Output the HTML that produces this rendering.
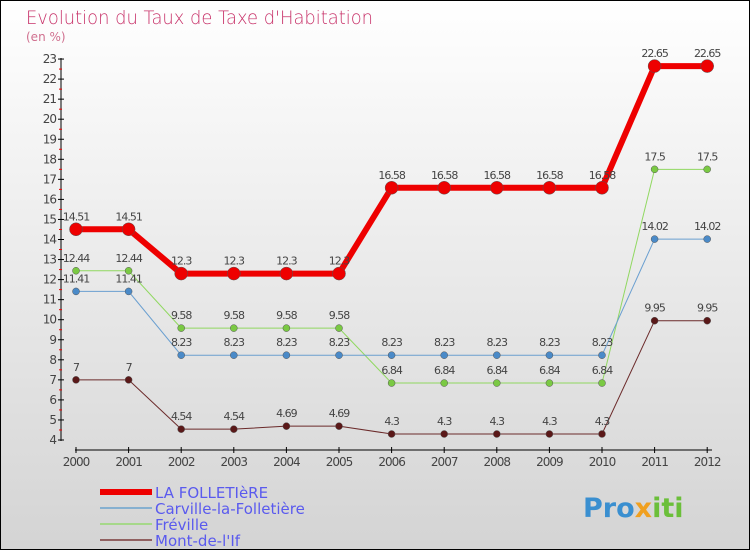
<!DOCTYPE html>
<html><head><meta charset="utf-8"><style>
body{margin:0}
#c{position:relative;width:750px;height:550px;box-sizing:border-box;border:1px solid #000;background:linear-gradient(#fff,#d4d4d4);overflow:hidden;font-family:"DejaVu Sans","Liberation Sans",sans-serif}
</style></head><body>
<div id="c">
<svg id="s" width="750" height="550" style="position:absolute;left:-1px;top:-1px">
<text x="26" y="24" font-size="19" fill="#c8336a" textLength="347" lengthAdjust="spacingAndGlyphs" font-family="DejaVu Sans,sans-serif" font-weight="200">Evolution du Taux de Taxe d'Habitation</text>
<text x="26" y="41" font-size="12" fill="#d0708f">(en %)</text>
<g id="axes"></g><g id="series"></g><g id="legend"></g>
<text x="583" y="517" font-size="27" font-weight="bold" fill="#3a8fd0">Pro<tspan fill="#f0a020">x</tspan><tspan fill="#6bbf3a">iti</tspan></text>
</svg>
</div>
<script>
const years=[2000,2001,2002,2003,2004,2005,2006,2007,2008,2009,2010,2011,2012];
const yTicks=[4,5,6,7,8,9,10,11,12,13,14,15,16,17,18,19,20,21,22,23];
const folletiere=[14.51,14.51,12.3,12.3,12.3,12.3,16.58,16.58,16.58,16.58,16.58,22.65,22.65];
const carville=[11.41,11.41,8.23,8.23,8.23,8.23,8.23,8.23,8.23,8.23,8.23,14.02,14.02];
const freville=[12.44,12.44,9.58,9.58,9.58,9.58,6.84,6.84,6.84,6.84,6.84,17.5,17.5];
const mont=[7,7,4.54,4.54,4.69,4.69,4.3,4.3,4.3,4.3,4.3,9.95,9.95];
const names=["LA FOLLETIèRE","Carville-la-Folletière","Fréville","Mont-de-l'If"];
const NS="http://www.w3.org/2000/svg";
const X=i=>76+i*52.6, Y=v=>440-(v-4)*20.05;
function mk(t,a,p){const e=document.createElementNS(NS,t);for(const k in a)e.setAttribute(k,a[k]);p.appendChild(e);return e;}
const ax=document.getElementById('axes');
let l=mk('line',{x1:61,y1:58,x2:61,y2:441,stroke:'#000'},ax);


l=mk('line',{x1:75,y1:450,x2:712,y2:450,stroke:'#000'},ax);


yTicks.forEach(v=>{mk('line',{x1:58,x2:64,y1:Y(v),y2:Y(v),stroke:'#000'},ax);
 if(v<23)mk('line',{x1:59,x2:62,y1:Y(v+0.5),y2:Y(v+0.5),stroke:'#e00'},ax);
 const t=mk('text',{x:56,y:Y(v)+4,'font-size':12,fill:'#444','text-anchor':'end','letter-spacing':'-1'},ax);t.textContent=v;
 
 });
years.forEach((y,i)=>{mk('line',{x1:X(i),x2:X(i),y1:447,y2:453,stroke:'#000'},ax);
 const t=mk('text',{x:X(i),y:466,'font-size':12,fill:'#444','text-anchor':'middle','letter-spacing':'-1'},ax);t.textContent=y;
 
 });
const sg=document.getElementById('series');
const defs=[[freville,'#90d860','#7ac943',1,3.5,'freville'],[carville,'#6a9fd0','#4a8ac8',1,3.5,'carville'],[mont,'#6b2a2a','#5a1818',1,3.5,'mont-de-l-if'],[folletiere,'#ee0000','#ee0000',6,6.5,'la-folletiere']];
defs.forEach(([d,lc,pc,w,r,n])=>{
 const p=mk('polyline',{points:d.map((v,i)=>X(i)+','+Y(v)).join(' '),fill:'none',stroke:lc,'stroke-width':w},sg);
 
 
 d.forEach((v,i)=>{const c=mk('circle',{cx:X(i),cy:Y(v),r:r,fill:pc,stroke:'#555','stroke-width':0.5},sg);
  
  
  const t=mk('text',{x:X(i),y:Y(v)-9,'font-size':11,fill:'#444','text-anchor':'middle','letter-spacing':'-1'},sg);t.textContent=String(v);
  
  });
});
const lg=document.getElementById('legend');
[['#ee0000',6],['#86b0d0',2],['#a6d88a',2],['#906060',2]].forEach(([c,w],i)=>{
 const y=492+i*16;
 const ln=mk('line',{x1:100,x2:152,y1:y,y2:y,stroke:c,'stroke-width':w},lg);
 
 
 const t=mk('text',{x:155,y:y+6,'font-size':15,fill:'#5a5aee'},lg);t.textContent=names[i];
 
 
});
</script>
</body></html>
